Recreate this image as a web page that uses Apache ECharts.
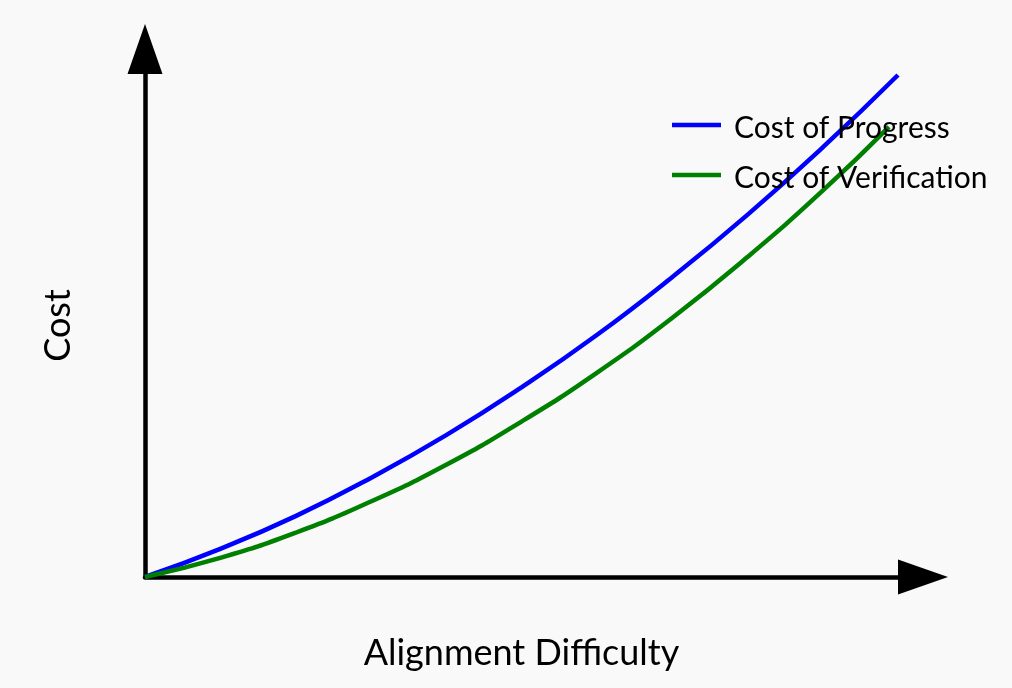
<!DOCTYPE html>
<html>
<head>
<meta charset="utf-8">
<script src="https://cdn.jsdelivr.net/npm/echarts@6/dist/echarts.min.js"></script>
<style>
    html, body { margin: 0; padding: 0; background: #f9f9f9; }
    #chart { width: 1012px; height: 688px; }
</style>
</head>
<body>
<div id="chart"></div>
<script>
// values (cost scaled so the top of the axis is 100)
const progressX = [0, 1, 2, 3, 4, 5, 6, 7, 8, 9, 10]
const progressCost = [0, 5.6, 12.1, 19.7, 28.2, 37.7, 48.1, 59.6, 72.0, 85.4, 99.8]
const verificationX = [0, 1, 2, 3, 4, 5, 6, 7, 8, 9, 9.88]
const verificationCost = [0, 3.8, 8.8, 15.0, 22.3, 30.9, 40.6, 51.5, 63.6, 76.8, 89.5]
const seriesNames = ['Cost of Progress', 'Cost of Verification']
const axisNames = ['Alignment Difficulty', 'Cost']

let chart = echarts.init(document.querySelector('#chart'))

function pairs(xs, ys) {
    return xs.map((x, i) => [x, ys[i]])
}

// shared look of both axes: thick black line ending in a triangle
function axisLine() {
    return {
        show: true,
        onZero: false,
        symbol: ['none', 'triangle'],
        symbolSize: [35, 50],
        symbolOffset: [0, 25],
        lineStyle: { color: '#000', width: 4.5 }
    }
}

// legend stroke sits a little above the text middle, so the icon box
// is taller than the visible bar (the second sub-path is empty)
const legendIcon = 'path://M0,0H49V4.5H0Z M0,10.5L0.01,10.5'

let option = {
    backgroundColor: '#f9f9f9',
    animation: false,
    textStyle: { fontFamily: 'Lato' },
    grid: {
        left: 145,
        right: 114,
        top: 74,
        bottom: 111
    },
    legend: {
        orient: 'vertical',
        left: 672,
        top: 113,
        padding: 0,
        icon: legendIcon,
        itemWidth: 49,
        itemHeight: 10.5,
        itemGap: 20,
        data: seriesNames,
        textStyle: {
            fontFamily: 'Lato',
            fontSize: 30,
            lineHeight: 30,
            color: '#000',
            padding: [0, 0, 0, 8]
        }
    },
    xAxis: {
        type: 'value',
        min: 0,
        max: 10,
        name: axisNames[0],
        nameLocation: 'middle',
        nameGap: 58,
        nameTextStyle: { fontFamily: 'Lato', fontSize: 36, color: '#000' },
        axisLine: axisLine(),
        axisTick: { show: false },
        axisLabel: { show: false },
        splitLine: { show: false }
    },
    yAxis: {
        type: 'value',
        min: 0,
        max: 100,
        name: axisNames[1],
        nameLocation: 'middle',
        nameGap: 69,
        nameTextStyle: { fontFamily: 'Lato', fontSize: 36, color: '#000' },
        axisLine: axisLine(),
        axisTick: { show: false },
        axisLabel: { show: false },
        splitLine: { show: false }
    },
    series: [
        {
            name: seriesNames[0],
            type: 'line',
            data: pairs(progressX, progressCost),
            smooth: 0.5,
            showSymbol: false,
            color: '#0000ff',
            lineStyle: { width: 4.5, color: '#0000ff' }
        },
        {
            name: seriesNames[1],
            type: 'line',
            data: pairs(verificationX, verificationCost),
            smooth: 0.5,
            showSymbol: false,
            color: '#008000',
            lineStyle: { width: 4.5, color: '#008000' }
        }
    ]
}

chart.setOption(option)
</script>
</body>
</html>
